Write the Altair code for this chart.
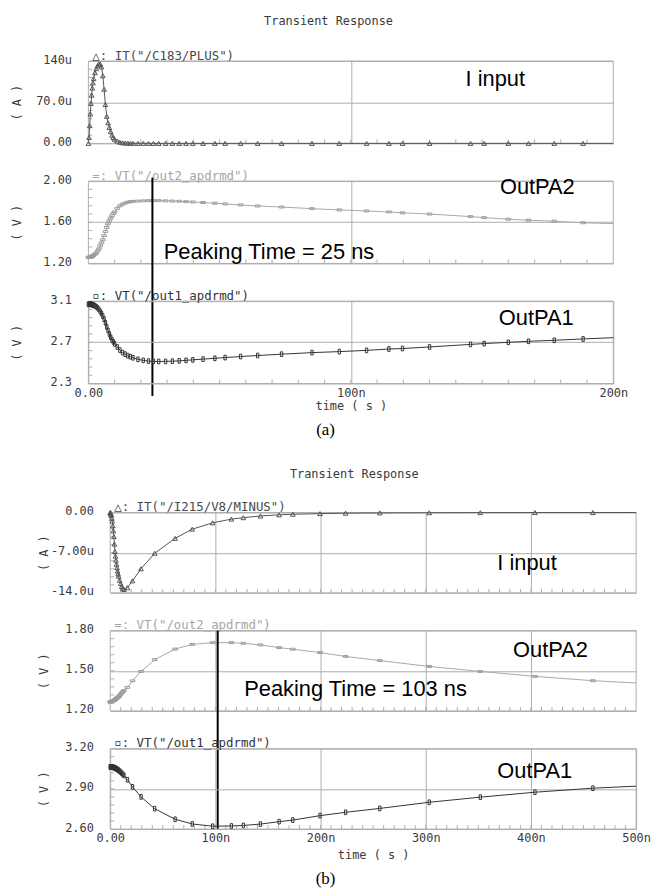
import altair as alt
import pandas as pd

# ---------------- figure (a): 0 .. 200 ns ----------------
TA = [0, 0.25, 0.5, 0.75, 1.0, 1.25, 1.5, 1.75, 2.0, 2.5, 3.0, 3.5, 4.0, 4.5, 5.0, 5.5,
      6.0, 6.5, 7.0, 7.5, 8.0, 8.5, 9.0, 9.5, 10, 11, 12, 13, 14, 15, 16,
      17.0, 18.9, 20.9, 22.9, 24.8, 26.8, 29.4, 32.0, 34.6, 37.2, 39.8, 43.7, 48.2, 52.1,
      58.0, 64.5, 73.6, 85.2, 95.6, 106, 114.5, 119.7, 130, 145.6, 150.8, 160, 167.7,
      177.5, 188.5, 200]
IA = [0, 10, 30, 50, 68, 82, 94, 103, 110, 120, 127, 132, 135, 135, 130, 115,
      92, 66, 46, 35, 27, 20, 14, 10, 7, 4, 2, 1, 0.6, 0.4, 0.2,
      0.1, 0.05, 0, 0, 0, 0, 0, 0, 0, 0, 0, 0, 0, 0,
      0, 0, 0, 0, 0, 0, 0, 0, 0, 0, 0, 0, 0,
      0, 0, 0]
VA2 = [1.26, 1.26, 1.26, 1.26, 1.26, 1.265, 1.27, 1.275, 1.28, 1.29, 1.30, 1.32, 1.34, 1.37, 1.40, 1.43,
       1.47, 1.51, 1.55, 1.585, 1.615, 1.64, 1.665, 1.685, 1.70, 1.735, 1.76, 1.775, 1.787, 1.795, 1.80,
       1.803, 1.806, 1.808, 1.81, 1.81, 1.81, 1.808, 1.806, 1.804, 1.80, 1.797, 1.792, 1.785, 1.778,
       1.768, 1.758, 1.748, 1.732, 1.72, 1.71, 1.70, 1.692, 1.68, 1.655, 1.645, 1.63, 1.62,
       1.61, 1.595, 1.587]
VA1 = [3.07, 3.07, 3.07, 3.07, 3.07, 3.068, 3.066, 3.064, 3.06, 3.055, 3.045, 3.035, 3.02, 3.00, 2.98, 2.955,
       2.925, 2.89, 2.85, 2.815, 2.78, 2.75, 2.725, 2.705, 2.685, 2.655, 2.625, 2.60, 2.585, 2.57, 2.56,
       2.55, 2.535, 2.525, 2.518, 2.515, 2.514, 2.515, 2.517, 2.52, 2.525, 2.53, 2.537, 2.545, 2.552,
       2.562, 2.572, 2.585, 2.60, 2.61, 2.622, 2.635, 2.64, 2.655, 2.68, 2.688, 2.70, 2.71,
       2.72, 2.733, 2.745]

# ---------------- figure (b): 0 .. 500 ns ----------------
TB = [0, 0.25, 0.5, 0.75, 1.0, 1.5, 2.0, 2.5, 3.0, 3.5, 4.0, 4.5, 5.0, 5.5, 6.0, 6.5, 7.0, 7.5, 8.0,
      9.0, 10.0, 11.0, 12.0,
      13.1, 16.4, 21.2, 29.3, 42.3, 61.7, 78, 97.4, 115.2, 126.6, 142.8, 160.6, 173.6, 199.5,
      223.8, 256.3, 303.3, 351.9, 403.8, 458.9, 500]
IB = [0, -0.05, -0.15, -0.3, -0.5, -1.0, -1.5, -2.3, -3.2, -4.2, -5.5, -6.8, -7.6, -8.3, -9.0, -9.6,
      -10.2, -10.7, -11.1, -11.8, -12.4, -12.9, -13.2,
      -13.4, -13.1, -11.9, -9.8, -7.1, -4.5, -2.9, -1.8, -1.15, -0.9, -0.6, -0.4, -0.3, -0.2,
      -0.12, -0.07, -0.04, -0.02, -0.01, -0.005, 0]
VB2 = [1.268, 1.268, 1.268, 1.268, 1.269, 1.27, 1.272, 1.274, 1.276, 1.278, 1.281, 1.284, 1.287, 1.29,
       1.293, 1.297, 1.30, 1.304, 1.307, 1.315, 1.325, 1.335, 1.344,
       1.352, 1.376, 1.425, 1.495, 1.583, 1.662, 1.697, 1.71, 1.71, 1.705, 1.693, 1.673, 1.661, 1.636,
       1.607, 1.576, 1.532, 1.495, 1.458, 1.426, 1.409]
VB1 = [3.063, 3.063, 3.063, 3.063, 3.063, 3.062, 3.062, 3.061, 3.06, 3.059, 3.058, 3.056, 3.054, 3.052,
       3.05, 3.047, 3.044, 3.041, 3.038, 3.032, 3.025, 3.017, 3.009,
       3.0, 2.968, 2.915, 2.84, 2.752, 2.673, 2.638, 2.621, 2.623, 2.627, 2.637, 2.655, 2.667, 2.70,
       2.725, 2.754, 2.80, 2.838, 2.875, 2.905, 2.92]

PEAK_A = 24.4
PEAK_B = 102.2

XVALS_A = [0, 100, 200]
XLABS_A = ["0.00", "100n", "200n"]
XVALS_B = [0, 100, 200, 300, 400, 500]
XLABS_B = ["0.00", "100n", "200n", "300n", "400n", "500n"]

Y_A1 = ([0, 70, 140], ["0.00", "70.0u", "140u"])
Y_A2 = ([1.2, 1.6, 2.0], ["1.20", "1.60", "2.00"])
Y_A3 = ([2.3, 2.7, 3.1], ["2.3", "2.7", "3.1"])
Y_B1 = ([-14, -7, 0], ["-14.0u", "-7.00u", "0.00"])
Y_B2 = ([1.2, 1.5, 1.8], ["1.20", "1.50", "1.80"])
Y_B3 = ([2.6, 2.9, 3.2], ["2.60", "2.90", "3.20"])

GRID = "#adadad"
TXT = "#3a3a3a"
LIGHT = "#9c9c9c"
DARK1 = "#555555"
DARK3 = "#333333"
MONO = "DejaVu Sans Mono"
SANS = "Liberation Sans"
SERIF = "Liberation Serif"

SHAPE_H = "M-1,-0.42L1,-0.42L1,0.42L-1,0.42Z"
SHAPE_V = "M-0.5,-1L0.5,-1L0.5,1L-0.5,1Z"


def lab_expr(vals, labs):
    expr = "''"
    for v, l in zip(reversed(vals), reversed(labs)):
        expr = f"(abs(datum.value - ({v})) < 1e-6 ? '{l}' : {expr})"
    return expr


def minor(lo, hi, n=10):
    return [lo + (hi - lo) * k / n for k in range(1, n)]


def panel(t, v, tmax, yspec, unit, color, mcolor, shape, legend, lcolor,
          w, h, xoff, xrange_, xgrid, bottom, title_x, xtitle_y, xminor_step, extras):
    yvals, ylabs = yspec
    ylo, yhi = yvals[0], yvals[-1]
    df = pd.DataFrame({"t": t, "v": v})
    sc_kw = dict(domain=[0, tmax], nice=False, zero=False)
    if xrange_:
        sc_kw["range"] = xrange_
    xs = alt.Scale(**sc_kw)
    ys = alt.Scale(domain=[ylo, yhi], nice=False, zero=False)
    if bottom:
        xvals, xlabs = bottom
        xax = alt.Axis(values=xvals, grid=True, gridColor=GRID, gridWidth=1, ticks=False, domain=False,
                       labelExpr=lab_expr(xvals, xlabs), labelFont=MONO, labelFontSize=12,
                       labelColor=TXT, labelPadding=4, labelBaseline="top", labelFlush=False,
                       labelOverlap=False, title="time ( s )", titleFont=MONO, titleFontSize=12,
                       titleFontWeight="normal", titleColor=TXT, titleY=xtitle_y,
                       titleBaseline="middle")
    else:
        xax = alt.Axis(values=xgrid, grid=True, gridColor=GRID, gridWidth=1, ticks=False,
                       domain=False, labels=False, title=None)
    yax = alt.Axis(values=yvals, grid=True, gridColor=GRID, gridWidth=1, ticks=False, domain=False,
                   labelExpr=lab_expr(yvals, ylabs), labelFont=MONO, labelFontSize=12,
                   labelColor=TXT, labelPadding=17, labelOffset=-2, labelFlush=False,
                   labelOverlap=False, offset=-xoff,
                   title=f"( {unit} )", titleFont=MONO, titleFontSize=12, titleFontWeight="normal",
                   titleColor=TXT, titleAngle=270, titleX=title_x, titleY=h / 2,
                   titleAlign="center", titleBaseline="middle")
    X = alt.X("t:Q", scale=xs, axis=xax)
    Y = alt.Y("v:Q", scale=ys, axis=yax)

    border = alt.Chart(pd.DataFrame({"t": [0], "t2": [tmax], "v": [ylo], "v2": [yhi]})).mark_rect(
        fillOpacity=0, stroke=GRID, strokeWidth=1).encode(x=X, x2="t2:Q", y=Y, y2="v2:Q")
    xm = [k * xminor_step for k in range(1, int(round(tmax / xminor_step)))]
    xt = alt.Chart(pd.DataFrame({"t": xm})).mark_rule(color=GRID, strokeWidth=1).encode(
        x=X, y=alt.value(h), y2=alt.value(h - 4))
    yt = alt.Chart(pd.DataFrame({"v": minor(ylo, yhi)})).mark_rule(color=GRID, strokeWidth=1).encode(
        y=Y, x=alt.value(xoff), x2=alt.value(xoff + 4))
    line = alt.Chart(df).mark_line(color=color, strokeWidth=1).encode(x=X, y=Y)
    pts = alt.Chart(df).transform_filter(f"datum.t < {tmax - 0.5}").mark_point(
        shape=shape, size=22, filled=False, color=mcolor, strokeWidth=1, opacity=1).encode(x=X, y=Y)
    leg = alt.Chart(pd.DataFrame({"s": [legend]})).mark_text(
        align="left", baseline="alphabetic", font=MONO, fontSize=12.5, color=lcolor).encode(
        x=alt.value(xoff + 4), y=alt.value(-1.5), text="s:N")
    layers = [border, xt, yt, line, pts, leg] + extras(X, Y)
    return alt.layer(*layers).properties(width=w, height=h)


def note(X, Y, t, v, s, size=22):
    return alt.Chart(pd.DataFrame({"t": [t], "v": [v], "s": [s]})).mark_text(
        align="left", baseline="alphabetic", font=SANS, fontSize=size, color="#000000").encode(
        x=X, y=Y, text="s:N")


def pix_text(x, y, s, font, size, color):
    return alt.Chart(pd.DataFrame({"s": [s]})).mark_text(
        align="center", baseline="middle", font=font, fontSize=size, color=color).encode(
        x=alt.value(x), y=alt.value(y), text="s:N")


def peak_rule(X, t, y1, y2):
    return alt.Chart(pd.DataFrame({"t": [t]})).mark_rule(color="#000000", strokeWidth=2).encode(
        x=X, y=alt.value(y1), y2=alt.value(y2))


HA = 83
HB = 81
WA = 529
WB = 552
OFFB = 22

a1 = panel(TA, IA, 200, Y_A1, "A", DARK1, DARK1, "triangle-up", '△: IT("/C183/PLUS")', "#4a4a4a",
           WA, HA, 0, None, [100], None, -72, 0, 10,
           lambda X, Y: [note(X, Y, 143.7, 97, "I input"),
                         pix_text(242, -40.8, "Transient Response", MONO, 12, TXT)])
a2 = panel(TA, VA2, 200, Y_A2, "V", "#a8a8a8", LIGHT, SHAPE_H, '=: VT("/out2_apdrmd")', "#a6a6a6",
           WA, HA, 0, None, [100], None, -72, 0, 10,
           lambda X, Y: [note(X, Y, 156.8, 1.87, "OutPA2"),
                         note(X, Y, 28.7, 1.243, "Peaking Time = 25 ns"),
                         peak_rule(X, PEAK_A, -3.5, 216.5)])
a3 = panel(TA, VA1, 200, Y_A3, "V", DARK3, DARK3, SHAPE_V, '▫: VT("/out1_apdrmd")', "#333333",
           WA, HA, 0, None, [100], (XVALS_A, XLABS_A), -72, 22.5, 10,
           lambda X, Y: [note(X, Y, 156.4, 2.864, "OutPA1"),
                         pix_text(239, 129.5, "(a)", SERIF, 17, "#000000")])

spacer = alt.Chart(pd.DataFrame({"s": [""]})).mark_text().encode(
    text="s:N", x=alt.value(0), y=alt.value(0)).properties(width=WA, height=54)

b1 = panel(TB, IB, 500, Y_B1, "A", DARK1, DARK1, "triangle-up", '△: IT("/I215/V8/MINUS")', "#4a4a4a",
           WB, HB, OFFB, [OFFB, WB], [100, 200, 300, 400], None, -67, 0, 10,
           lambda X, Y: [note(X, Y, 368, -9.94, "I input"),
                         pix_text(268, -38.5, "Transient Response", MONO, 12, TXT)])
b2 = panel(TB, VB2, 500, Y_B2, "V", "#a8a8a8", LIGHT, SHAPE_H, '=: VT("/out2_apdrmd")', "#a6a6a6",
           WB, HB, OFFB, [OFFB, WB], [100, 200, 300, 400], None, -67, 0, 10,
           lambda X, Y: [note(X, Y, 383, 1.604, "OutPA2"),
                         note(X, Y, 127.4, 1.315, "Peaking Time = 103 ns"),
                         peak_rule(X, PEAK_B, 0, 200)])
b3 = panel(TB, VB1, 500, Y_B3, "V", DARK3, DARK3, SHAPE_V, '▫: VT("/out1_apdrmd")', "#333333",
           WB, HB, OFFB, [OFFB, WB], [100, 200, 300, 400], (XVALS_B, XLABS_B), -67, 26, 10,
           lambda X, Y: [note(X, Y, 368, 2.98, "OutPA1"),
                         pix_text(239, 131.5, "(b)", SERIF, 17, "#000000")])

chart = alt.vconcat(a1, a2, a3, spacer, b1, b2, b3, spacing=38, bounds="flush").properties(
    padding={"left": 3, "top": 3, "right": 0, "bottom": 0}
).configure_view(strokeWidth=0)

chart.save("out.html", embed_options={"renderer": "svg", "actions": False})
